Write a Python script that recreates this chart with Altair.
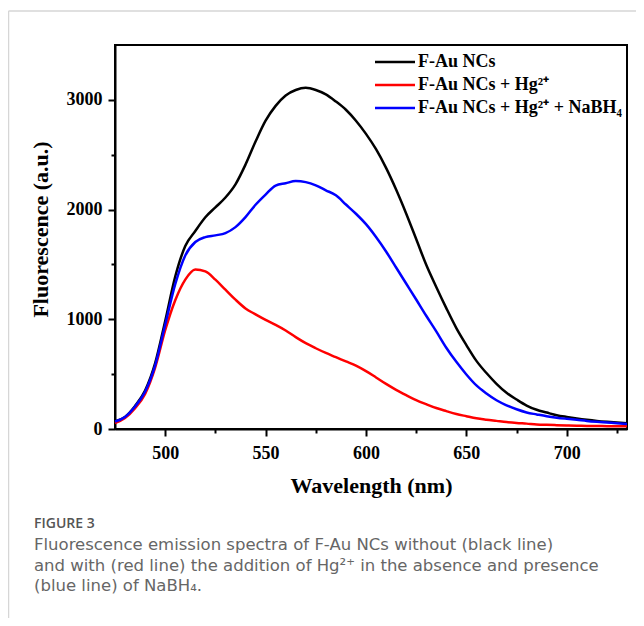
import altair as alt
import pandas as pd

# ---- data ----
wavelength = [475, 480, 485, 490, 495, 500, 505, 510, 515, 520, 525, 530, 535, 540, 545,
              550, 555, 560, 565, 570, 575, 580, 585, 590, 595, 600, 605, 610, 615, 620,
              625, 630, 635, 640, 645, 650, 655, 660, 665, 670, 675, 680, 685, 690, 695,
              700, 705, 710, 715, 720, 725, 730]

f_au = [68, 110, 210, 350, 600, 985, 1390, 1668, 1805, 1930, 2020, 2110, 2230, 2410, 2620,
        2810, 2945, 3040, 3090, 3110, 3090, 3050, 2985, 2910, 2810, 2690, 2550, 2380, 2183, 1965,
        1732, 1497, 1295, 1102, 920, 765, 621, 510, 412, 330, 269, 214, 175, 150, 126,
        110, 96, 84, 74, 66, 59, 53]

f_au_hg = [55, 100, 190, 320, 560, 900, 1174, 1362, 1454, 1436, 1361, 1270, 1179, 1099, 1045,
           994, 949, 898, 837, 782, 736, 693, 655, 616, 578, 528, 470, 411, 357, 309,
           264, 226, 191, 163, 137, 117, 98, 85, 74, 63, 55, 49, 42, 38, 35,
           32, 30, 28, 27, 26, 25, 24]

f_au_hg_nabh4 = [68, 110, 205, 340, 580, 950, 1320, 1582, 1704, 1749, 1765, 1786, 1840, 1931, 2044,
                 2137, 2219, 2240, 2260, 2250, 2221, 2176, 2130, 2046, 1962, 1867, 1750, 1618, 1472, 1326,
                 1180, 1032, 890, 741, 612, 497, 397, 324, 262, 216, 180, 151, 133, 116, 103,
                 93, 84, 74, 66, 59, 52, 46]

series_names = ["F-Au NCs", "F-Au NCs + Hg²⁺", "F-Au NCs + Hg²⁺ + NaBH₄"]
series_colors = ["#000000", "#ff0000", "#0000ff"]
series_values = [f_au, f_au_hg, f_au_hg_nabh4]

x_ticks = [500, 525, 550, 575, 600, 625, 650, 675, 700, 725]
y_ticks = [0, 500, 1000, 1500, 2000, 2500, 3000]

caption_title = "FIGURE 3"
caption_lines = [
    "Fluorescence emission spectra of F-Au NCs without (black line)",
    "and with (red line) the addition of Hg²⁺ in the absence and presence",
    "(blue line) of NaBH₄.",
]

rows = []
for name, vals in zip(series_names, series_values):
    for w, v in zip(wavelength, vals):
        rows.append({"wavelength": w, "fluorescence": v, "series": name})
df = pd.DataFrame(rows)

SERIF = "Liberation Serif"
SANS = "Open Sans"
CAPTION = "DejaVu Sans"
W, H = 512, 384

lines = alt.Chart(df).mark_line(strokeWidth=2.5, interpolate="monotone").encode(
    x=alt.X("wavelength:Q",
            scale=alt.Scale(domain=[475, 730], nice=False, zero=False),
            axis=alt.Axis(
                values=x_ticks,
                title="Wavelength (nm)",
                labelExpr="datum.value % 50 === 0 ? datum.label : ''",
                tickSize={"condition": {"test": "datum.value % 50 === 0", "value": 7}, "value": 4},
                tickWidth=2, tickColor="black",
                domainColor="black", domainWidth=2,
                labelFont=SERIF, labelFontWeight="bold", labelFontSize=18, labelColor="black",
                labelPadding=8, labelFlush=False,
                titleFont=SERIF, titleFontWeight="bold", titleFontSize=22, titleColor="black",
                titleX=256, titleY=56, titleBaseline="middle", titleAlign="center",
                grid=False)),
    y=alt.Y("fluorescence:Q",
            scale=alt.Scale(domain=[0, 3500], nice=False),
            axis=alt.Axis(
                values=y_ticks,
                format="d",
                title="Fluorescence (a.u.)",
                labelExpr="datum.value % 1000 === 0 ? datum.label : ''",
                tickSize={"condition": {"test": "datum.value % 1000 === 0", "value": 7}, "value": 4},
                tickWidth=2, tickColor="black",
                domainColor="black", domainWidth=2,
                labelFont=SERIF, labelFontWeight="bold", labelFontSize=18, labelColor="black",
                labelPadding=6, labelFlush=False,
                titleFont=SERIF, titleFontWeight="bold", titleFontSize=22, titleColor="black",
                titleX=-75, titleY=184, titleBaseline="middle", titleAlign="center",
                grid=False)),
    color=alt.Color("series:N", scale=alt.Scale(domain=series_names, range=series_colors), legend=None),
    order=alt.Order("wavelength:Q"),
)

one = pd.DataFrame({"a": [0]})
layers = [lines]

# manual legend
legend_rows_y = [17, 40, 63]
for name, col, yy in zip(series_names, series_colors, legend_rows_y):
    layers.append(alt.Chart(one).mark_rule(color=col, strokeWidth=2.5).encode(
        x=alt.value(260), x2=alt.value(300), y=alt.value(yy)))
    layers.append(alt.Chart(one).mark_text(
        font=SERIF, fontWeight="bold", fontSize=18, color="black", align="left", baseline="middle").encode(
        x=alt.value(303), y=alt.value(yy), text=alt.value(name)))

# figure container borders
layers.append(alt.Chart(one).mark_rule(color="#d6d6d6", strokeWidth=1.5).encode(
    x=alt.value(-106.5), x2=alt.value(521), y=alt.value(-34)))
layers.append(alt.Chart(one).mark_rule(color="#d6d6d6", strokeWidth=1.5).encode(
    x=alt.value(-106.5), y=alt.value(-34), y2=alt.value(573)))

# caption
layers.append(alt.Chart(one).mark_text(
    font=SANS, fontSize=14, fontWeight=600, color="#555555", align="left", baseline="middle").encode(
    x=alt.value(-81), y=alt.value(479), text=alt.value(caption_title)))
for i, line in enumerate(caption_lines):
    layers.append(alt.Chart(one).mark_text(
        font=CAPTION, fontSize=16.5, color="#666666", align="left", baseline="middle").encode(
        x=alt.value(-81), y=alt.value(500 + 20.5 * i), text=alt.value(line)))

chart = alt.layer(*layers).properties(
    width=W, height=H,
    autosize=alt.AutoSizeParams(type="none"),
    padding={"left": 107, "top": 37, "right": 9, "bottom": 189},
).configure_view(stroke="black", strokeWidth=2)

chart.save("out.html", embed_options={"renderer": "svg", "actions": False})
